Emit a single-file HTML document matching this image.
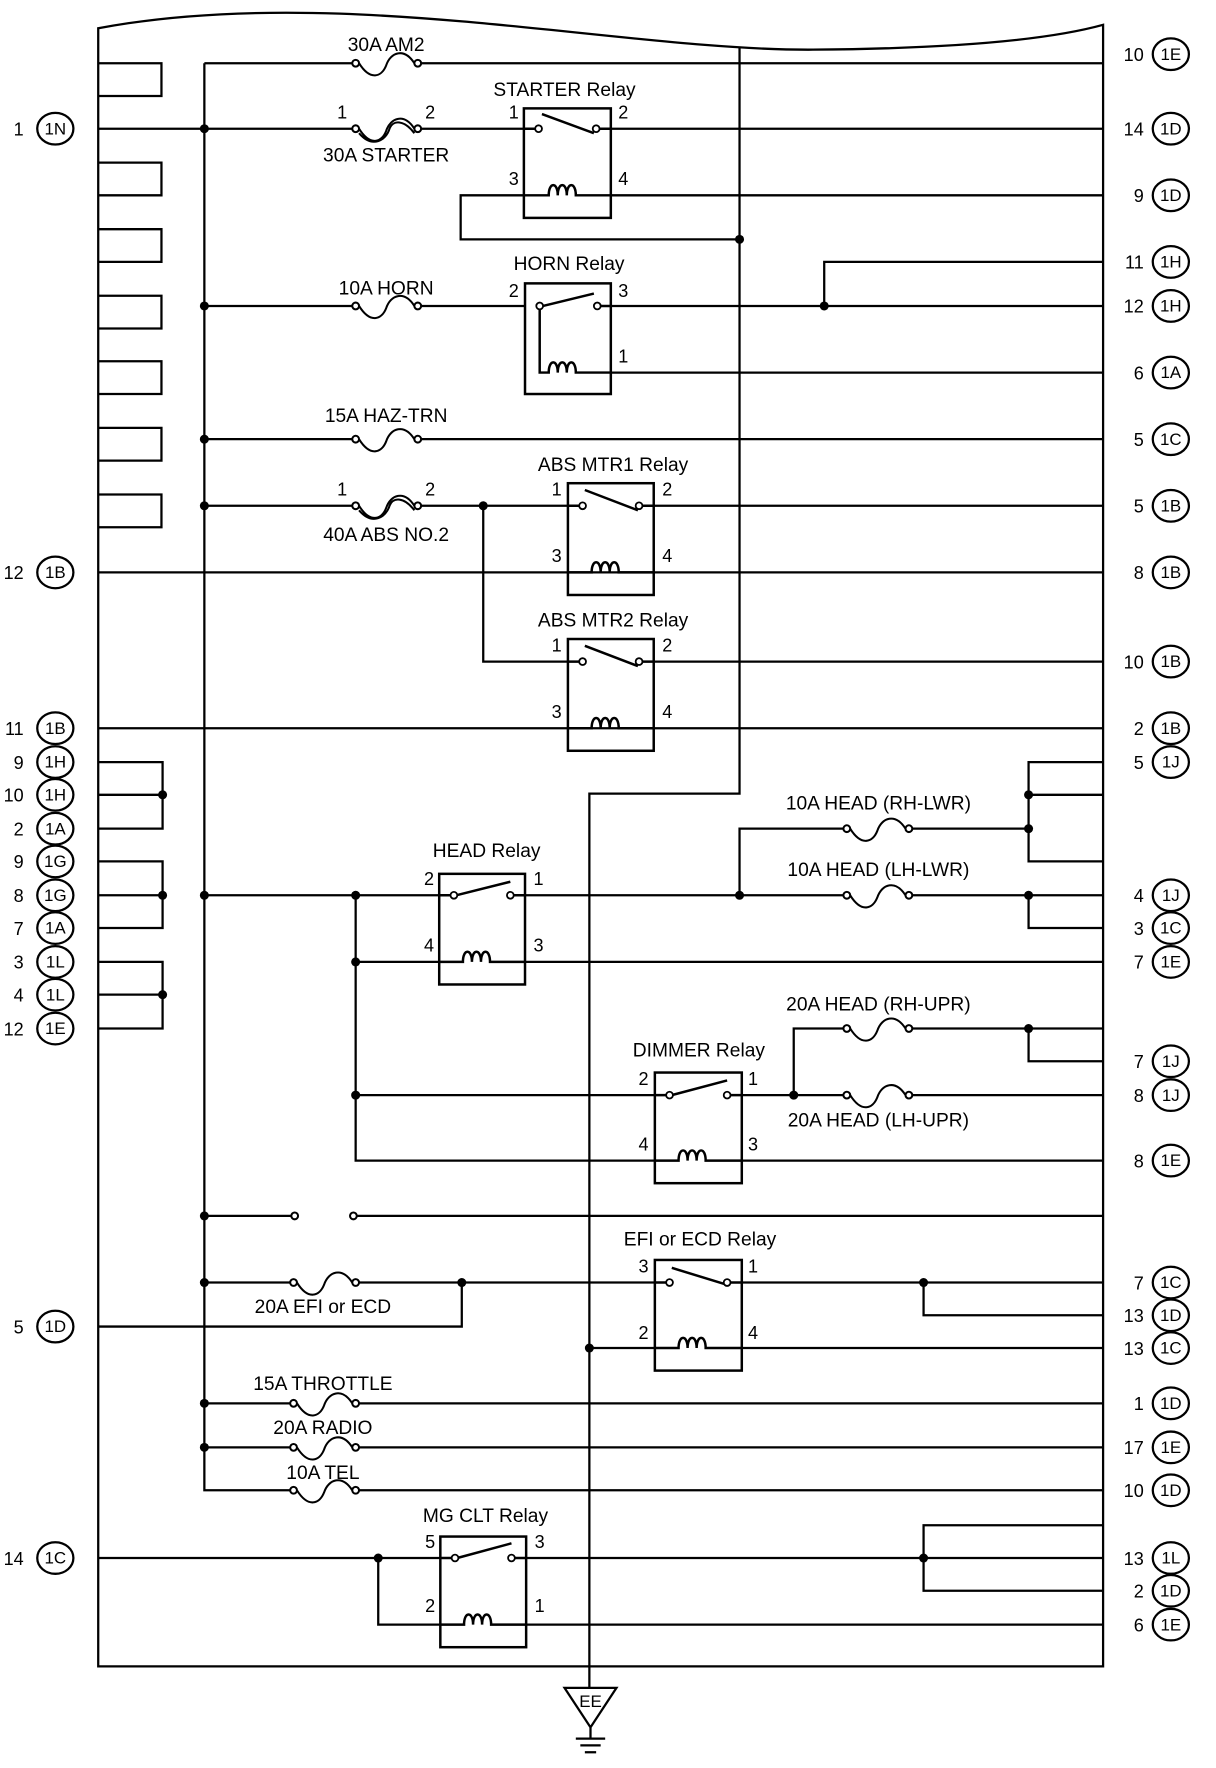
<!DOCTYPE html>
<html><head><meta charset="utf-8"><style>
html,body{margin:0;padding:0;background:#fff;}
svg{display:block;}
text{font-family:"Liberation Sans",sans-serif;fill:#000;}
.t{font-size:17px;}
.n{font-size:16px;}
.c{font-size:15px;}
</style></head><body>
<svg width="1216" height="1768" viewBox="0 0 1077 1566" preserveAspectRatio="none" xmlns="http://www.w3.org/2000/svg">
<g fill="none" stroke="#000" stroke-width="2">
<path d="M87,1476 V25 C300,-15 550,45 720,44 C850,43 930,35 977,22 V1476 Z"/>
<path d="M87,56 H143 V85 H87 M87,144 H143 V173 H87 M87,203 H143 V232 H87 M87,262 H143 V291 H87 M87,320 H143 V349 H87 M87,379 H143 V408 H87 M87,438 H143 V467 H87"/>
<path d="M181,56 V1320 H260"/>
<path d="M655,42 V703 H522 V1495"/>
<path d="M181,56 H315 M370,56 H977"/>
<path d="M87,114 H315 M370,114 H464 M541,114 H977"/>
<path d="M541,173 H977 M464,173 H408 V212 H655"/>
<path d="M181,271 H315 M370,271 H465 M541,271 H977 M730,271 V232 H977 M541,330 H977"/>
<path d="M181,389 H315 M370,389 H977"/>
<path d="M181,448 H315 M370,448 H503 M579,448 H977 M428,448 V586 H503"/>
<path d="M87,507 H977 M579,586 H977 M87,645 H977"/>
<path d="M87,675 H144 V734 H87 M87,704 H144 M87,763 H144 V822 H87 M87,793 H144 M87,852 H144 V911 H87 M87,881 H144"/>
<path d="M977,675 H911 V763 H977 M911,704 H977 M911,734 H805 M750,734 H655 V793"/>
<path d="M181,793 H389 M465,793 H750 M805,793 H977 M911,793 V822 H977"/>
<path d="M315,793 V1028 H580 M315,852 H389 M465,852 H977 M315,970 H580 M657,970 H750 M805,970 H977 M657,1028 H977"/>
<path d="M703,970 V911 H750 M805,911 H977 M911,911 V940 H977"/>
<path d="M181,1077 H258 M316,1077 H977"/>
<path d="M181,1136 H260 M315,1136 H580 M409,1136 V1175 H87 M657,1136 H977 M818,1136 V1165 H977 M522,1194 H580 M657,1194 H977"/>
<path d="M181,1243 H260 M315,1243 H977 M181,1282 H260 M315,1282 H977 M315,1320 H977"/>
<path d="M87,1380 H390 M466,1380 H977 M335,1380 V1439 H390 M466,1439 H977 M818,1380 V1351 H977 M818,1380 V1409 H977"/>
<g stroke-width="1.8">
<path d="M318,56 C328,72 338,68 342,58 C346,46 358,42 367,56"/><circle cx="315" cy="56" r="3" fill="#fff"/><circle cx="370" cy="56" r="3" fill="#fff"/>
<path d="M318,114 C328,130 338,126 342,116 C346,104 358,100 367,114 M318,118 C330,132 342,124 345,114 C348,106 358,106 367,118"/><circle cx="315" cy="114" r="3" fill="#fff"/><circle cx="370" cy="114" r="3" fill="#fff"/>
<path d="M318,271 C328,287 338,283 342,273 C346,261 358,257 367,271"/><circle cx="315" cy="271" r="3" fill="#fff"/><circle cx="370" cy="271" r="3" fill="#fff"/>
<path d="M318,389 C328,405 338,401 342,391 C346,379 358,375 367,389"/><circle cx="315" cy="389" r="3" fill="#fff"/><circle cx="370" cy="389" r="3" fill="#fff"/>
<path d="M318,448 C328,464 338,460 342,450 C346,438 358,434 367,448 M318,452 C330,466 342,458 345,448 C348,440 358,440 367,452"/><circle cx="315" cy="448" r="3" fill="#fff"/><circle cx="370" cy="448" r="3" fill="#fff"/>
<path d="M753,734 C763,750 773,746 777,736 C781,724 793,720 802,734"/><circle cx="750" cy="734" r="3" fill="#fff"/><circle cx="805" cy="734" r="3" fill="#fff"/>
<path d="M753,793 C763,809 773,805 777,795 C781,783 793,779 802,793"/><circle cx="750" cy="793" r="3" fill="#fff"/><circle cx="805" cy="793" r="3" fill="#fff"/>
<path d="M753,911 C763,927 773,923 777,913 C781,901 793,897 802,911"/><circle cx="750" cy="911" r="3" fill="#fff"/><circle cx="805" cy="911" r="3" fill="#fff"/>
<path d="M753,970 C763,986 773,982 777,972 C781,960 793,956 802,970"/><circle cx="750" cy="970" r="3" fill="#fff"/><circle cx="805" cy="970" r="3" fill="#fff"/>
<path d="M263,1136 C273,1152 283,1148 287,1138 C291,1126 303,1122 312,1136"/><circle cx="260" cy="1136" r="3" fill="#fff"/><circle cx="315" cy="1136" r="3" fill="#fff"/>
<path d="M263,1243 C273,1259 283,1255 287,1245 C291,1233 303,1229 312,1243"/><circle cx="260" cy="1243" r="3" fill="#fff"/><circle cx="315" cy="1243" r="3" fill="#fff"/>
<path d="M263,1282 C273,1298 283,1294 287,1284 C291,1272 303,1268 312,1282"/><circle cx="260" cy="1282" r="3" fill="#fff"/><circle cx="315" cy="1282" r="3" fill="#fff"/>
<path d="M263,1320 C273,1336 283,1332 287,1322 C291,1310 303,1306 312,1320"/><circle cx="260" cy="1320" r="3" fill="#fff"/><circle cx="315" cy="1320" r="3" fill="#fff"/>
<circle cx="261" cy="1077" r="3" fill="#fff"/><circle cx="313" cy="1077" r="3" fill="#fff"/>
</g>
<g stroke-width="2.2">
<rect x="464" y="96" width="77" height="97"/>
<path d="M464,114 H474 M530,114 H541 M480,101 L526,118"/>
<path d="M464,173 H486 c0,-12 8,-12 8,0 c0,-12 8,-12 8,0 c0,-12 8,-12 8,0 H541"/>
<rect x="465" y="251" width="76" height="98"/>
<path d="M478,271 V330 H486 c0,-12 8,-12 8,0 c0,-12 8,-12 8,0 c0,-12 8,-12 8,0 H541 M530,271 H541 M481,271 L526,260"/>
<rect x="503" y="428" width="76" height="99"/>
<path d="M503,448 H513 M568,448 H579 M518,434 L565,452"/>
<path d="M503,507 H524 c0,-12 8,-12 8,0 c0,-12 8,-12 8,0 c0,-12 8,-12 8,0 H579"/>
<rect x="503" y="566" width="76" height="99"/>
<path d="M503,586 H513 M568,586 H579 M518,572 L565,590"/>
<path d="M503,645 H524 c0,-12 8,-12 8,0 c0,-12 8,-12 8,0 c0,-12 8,-12 8,0 H579"/>
<rect x="389" y="774" width="76" height="98"/>
<path d="M389,793 H399 M454,793 H465 M404,793 L452,781"/>
<path d="M389,852 H410 c0,-12 8,-12 8,0 c0,-12 8,-12 8,0 c0,-12 8,-12 8,0 H465"/>
<rect x="580" y="950" width="77" height="98"/>
<path d="M580,970 H590 M645,970 H657 M595,970 L644,957"/>
<path d="M580,1028 H601 c0,-12 8,-12 8,0 c0,-12 8,-12 8,0 c0,-12 8,-12 8,0 H657"/>
<rect x="580" y="1116" width="77" height="98"/>
<path d="M580,1136 H590 M645,1136 H657 M595,1123 L644,1138"/>
<path d="M580,1194 H601 c0,-12 8,-12 8,0 c0,-12 8,-12 8,0 c0,-12 8,-12 8,0 H657"/>
<rect x="390" y="1361" width="76" height="98"/>
<path d="M390,1380 H400 M455,1380 H466 M405,1380 L453,1367"/>
<path d="M390,1439 H411 c0,-12 8,-12 8,0 c0,-12 8,-12 8,0 c0,-12 8,-12 8,0 H466"/>
</g>
<g stroke-width="1.6" fill="#fff">
<circle cx="477" cy="114" r="3"/><circle cx="528" cy="114" r="3"/>
<circle cx="478" cy="271" r="3"/><circle cx="529" cy="271" r="3"/>
<circle cx="516" cy="448" r="3"/><circle cx="566" cy="448" r="3"/>
<circle cx="516" cy="586" r="3"/><circle cx="566" cy="586" r="3"/>
<circle cx="402" cy="793" r="3"/><circle cx="452" cy="793" r="3"/>
<circle cx="593" cy="970" r="3"/><circle cx="644" cy="970" r="3"/>
<circle cx="593" cy="1136" r="3"/><circle cx="644" cy="1136" r="3"/>
<circle cx="403" cy="1380" r="3"/><circle cx="453" cy="1380" r="3"/>
</g>
<path d="M500,1495 H546 L523,1530 Z M523,1530 V1540 M510,1540 H536 M514,1546 H532 M518,1552 H528"/>
<g stroke-width="2">
<ellipse cx="49" cy="114" rx="16" ry="14"/><ellipse cx="49" cy="507" rx="16" ry="14"/><ellipse cx="49" cy="645" rx="16" ry="14"/>
<ellipse cx="49" cy="675" rx="16" ry="14"/><ellipse cx="49" cy="704" rx="16" ry="14"/><ellipse cx="49" cy="734" rx="16" ry="14"/>
<ellipse cx="49" cy="763" rx="16" ry="14"/><ellipse cx="49" cy="793" rx="16" ry="14"/><ellipse cx="49" cy="822" rx="16" ry="14"/>
<ellipse cx="49" cy="852" rx="16" ry="14"/><ellipse cx="49" cy="881" rx="16" ry="14"/><ellipse cx="49" cy="911" rx="16" ry="14"/>
<ellipse cx="49" cy="1175" rx="16" ry="14"/><ellipse cx="49" cy="1380" rx="16" ry="14"/>
<ellipse cx="1037" cy="48" rx="16" ry="14"/><ellipse cx="1037" cy="114" rx="16" ry="14"/><ellipse cx="1037" cy="173" rx="16" ry="14"/>
<ellipse cx="1037" cy="232" rx="16" ry="14"/><ellipse cx="1037" cy="271" rx="16" ry="14"/><ellipse cx="1037" cy="330" rx="16" ry="14"/>
<ellipse cx="1037" cy="389" rx="16" ry="14"/><ellipse cx="1037" cy="448" rx="16" ry="14"/><ellipse cx="1037" cy="507" rx="16" ry="14"/>
<ellipse cx="1037" cy="586" rx="16" ry="14"/><ellipse cx="1037" cy="645" rx="16" ry="14"/><ellipse cx="1037" cy="675" rx="16" ry="14"/>
<ellipse cx="1037" cy="793" rx="16" ry="14"/><ellipse cx="1037" cy="822" rx="16" ry="14"/><ellipse cx="1037" cy="852" rx="16" ry="14"/>
<ellipse cx="1037" cy="940" rx="16" ry="14"/><ellipse cx="1037" cy="970" rx="16" ry="14"/><ellipse cx="1037" cy="1028" rx="16" ry="14"/>
<ellipse cx="1037" cy="1136" rx="16" ry="14"/><ellipse cx="1037" cy="1165" rx="16" ry="14"/><ellipse cx="1037" cy="1194" rx="16" ry="14"/>
<ellipse cx="1037" cy="1243" rx="16" ry="14"/><ellipse cx="1037" cy="1282" rx="16" ry="14"/><ellipse cx="1037" cy="1320" rx="16" ry="14"/>
<ellipse cx="1037" cy="1380" rx="16" ry="14"/><ellipse cx="1037" cy="1409" rx="16" ry="14"/><ellipse cx="1037" cy="1439" rx="16" ry="14"/>
</g>
</g>
<g fill="#000">
<circle cx="181" cy="114" r="4"/><circle cx="655" cy="212" r="4"/><circle cx="181" cy="271" r="4"/><circle cx="730" cy="271" r="4"/>
<circle cx="181" cy="389" r="4"/><circle cx="181" cy="448" r="4"/><circle cx="428" cy="448" r="4"/>
<circle cx="144" cy="704" r="4"/><circle cx="144" cy="793" r="4"/><circle cx="144" cy="881" r="4"/>
<circle cx="911" cy="704" r="4"/><circle cx="911" cy="734" r="4"/><circle cx="655" cy="793" r="4"/><circle cx="911" cy="793" r="4"/>
<circle cx="181" cy="793" r="4"/><circle cx="315" cy="793" r="4"/><circle cx="315" cy="852" r="4"/><circle cx="315" cy="970" r="4"/>
<circle cx="703" cy="970" r="4"/><circle cx="911" cy="911" r="4"/>
<circle cx="181" cy="1077" r="4"/><circle cx="181" cy="1136" r="4"/><circle cx="409" cy="1136" r="4"/><circle cx="818" cy="1136" r="4"/>
<circle cx="522" cy="1194" r="4"/><circle cx="181" cy="1243" r="4"/><circle cx="181" cy="1282" r="4"/>
<circle cx="335" cy="1380" r="4"/><circle cx="818" cy="1380" r="4"/>
</g>
<g class="t" text-anchor="middle">
<text x="342" y="45">30A AM2</text>
<text x="500" y="85">STARTER Relay</text>
<text x="342" y="143">30A STARTER</text>
<text x="342" y="261">10A HORN</text>
<text x="504" y="239">HORN Relay</text>
<text x="342" y="374">15A HAZ-TRN</text>
<text x="543" y="417">ABS MTR1 Relay</text>
<text x="342" y="479">40A ABS NO.2</text>
<text x="543" y="555">ABS MTR2 Relay</text>
<text x="778" y="717">10A HEAD (RH-LWR)</text>
<text x="778" y="776">10A HEAD (LH-LWR)</text>
<text x="431" y="759">HEAD Relay</text>
<text x="778" y="895">20A HEAD (RH-UPR)</text>
<text x="619" y="936">DIMMER Relay</text>
<text x="778" y="998">20A HEAD (LH-UPR)</text>
<text x="620" y="1103">EFI or ECD Relay</text>
<text x="286" y="1163">20A EFI or ECD</text>
<text x="286" y="1231">15A THROTTLE</text>
<text x="286" y="1270">20A RADIO</text>
<text x="286" y="1310">10A TEL</text>
<text x="430" y="1348">MG CLT Relay</text>
<text x="523" y="1512" class="c">EE</text>
</g>
<g class="n" text-anchor="middle">
<text x="303" y="105">1</text><text x="381" y="105">2</text>
<text x="455" y="105">1</text><text x="552" y="105">2</text><text x="455" y="164">3</text><text x="552" y="164">4</text>
<text x="455" y="263">2</text><text x="552" y="263">3</text><text x="552" y="321">1</text>
<text x="303" y="439">1</text><text x="381" y="439">2</text>
<text x="493" y="439">1</text><text x="591" y="439">2</text><text x="493" y="498">3</text><text x="591" y="498">4</text>
<text x="493" y="577">1</text><text x="591" y="577">2</text><text x="493" y="636">3</text><text x="591" y="636">4</text>
<text x="380" y="784">2</text><text x="477" y="784">1</text><text x="380" y="843">4</text><text x="477" y="843">3</text>
<text x="570" y="961">2</text><text x="667" y="961">1</text><text x="570" y="1019">4</text><text x="667" y="1019">3</text>
<text x="570" y="1127">3</text><text x="667" y="1127">1</text><text x="570" y="1186">2</text><text x="667" y="1186">4</text>
<text x="381" y="1371">5</text><text x="478" y="1371">3</text><text x="381" y="1428">2</text><text x="478" y="1428">1</text>
</g>
<g class="n" text-anchor="end">
<text x="21" y="120">1</text><text x="21" y="513">12</text><text x="21" y="651">11</text>
<text x="21" y="681">9</text><text x="21" y="710">10</text><text x="21" y="740">2</text>
<text x="21" y="769">9</text><text x="21" y="799">8</text><text x="21" y="828">7</text>
<text x="21" y="858">3</text><text x="21" y="887">4</text><text x="21" y="917">12</text>
<text x="21" y="1181">5</text><text x="21" y="1386">14</text>
</g>
<g class="c" text-anchor="middle">
<text x="49" y="119">1N</text><text x="49" y="512">1B</text><text x="49" y="650">1B</text>
<text x="49" y="680">1H</text><text x="49" y="709">1H</text><text x="49" y="739">1A</text>
<text x="49" y="768">1G</text><text x="49" y="798">1G</text><text x="49" y="827">1A</text>
<text x="49" y="857">1L</text><text x="49" y="886">1L</text><text x="49" y="916">1E</text>
<text x="49" y="1180">1D</text><text x="49" y="1385">1C</text>
</g>
<g class="n" text-anchor="end">
<text x="1013" y="54">10</text><text x="1013" y="120">14</text><text x="1013" y="179">9</text>
<text x="1013" y="238">11</text><text x="1013" y="277">12</text><text x="1013" y="336">6</text>
<text x="1013" y="395">5</text><text x="1013" y="454">5</text><text x="1013" y="513">8</text>
<text x="1013" y="592">10</text><text x="1013" y="651">2</text><text x="1013" y="681">5</text>
<text x="1013" y="799">4</text><text x="1013" y="828">3</text><text x="1013" y="858">7</text>
<text x="1013" y="946">7</text><text x="1013" y="976">8</text><text x="1013" y="1034">8</text>
<text x="1013" y="1142">7</text><text x="1013" y="1171">13</text><text x="1013" y="1200">13</text>
<text x="1013" y="1249">1</text><text x="1013" y="1288">17</text><text x="1013" y="1326">10</text>
<text x="1013" y="1386">13</text><text x="1013" y="1415">2</text><text x="1013" y="1445">6</text>
</g>
<g class="c" text-anchor="middle">
<text x="1037" y="53">1E</text><text x="1037" y="119">1D</text><text x="1037" y="178">1D</text>
<text x="1037" y="237">1H</text><text x="1037" y="276">1H</text><text x="1037" y="335">1A</text>
<text x="1037" y="394">1C</text><text x="1037" y="453">1B</text><text x="1037" y="512">1B</text>
<text x="1037" y="591">1B</text><text x="1037" y="650">1B</text><text x="1037" y="680">1J</text>
<text x="1037" y="798">1J</text><text x="1037" y="827">1C</text><text x="1037" y="857">1E</text>
<text x="1037" y="945">1J</text><text x="1037" y="975">1J</text><text x="1037" y="1033">1E</text>
<text x="1037" y="1141">1C</text><text x="1037" y="1170">1D</text><text x="1037" y="1199">1C</text>
<text x="1037" y="1248">1D</text><text x="1037" y="1287">1E</text><text x="1037" y="1325">1D</text>
<text x="1037" y="1385">1L</text><text x="1037" y="1414">1D</text><text x="1037" y="1444">1E</text>
</g>
</svg>
</body></html>
